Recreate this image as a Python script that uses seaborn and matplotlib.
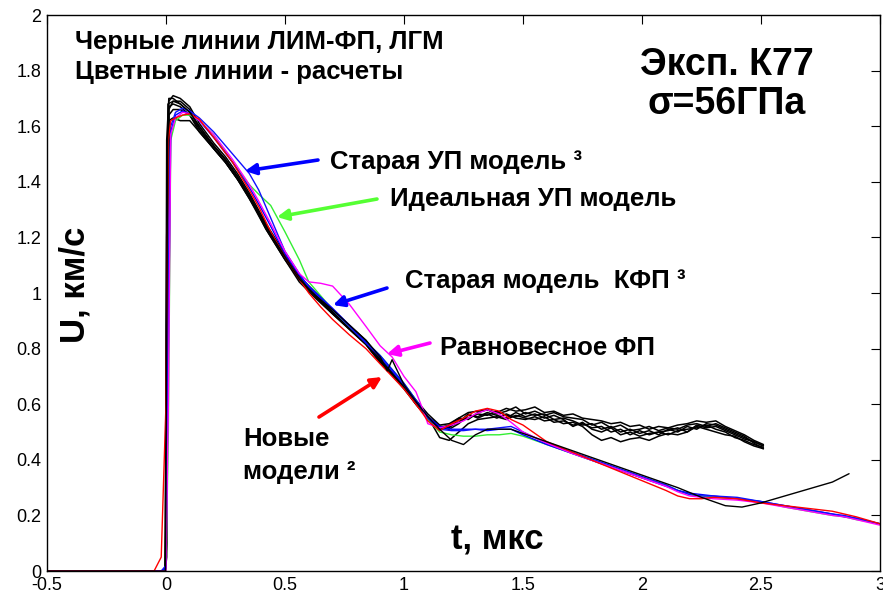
import matplotlib
matplotlib.use("Agg")
import matplotlib.pyplot as plt
import seaborn as sns
import pandas as pd

# ---------------- data ----------------
# experimental traces (black), shared time grid
t_exp = [-0.5, -0.003, 0.003, 0.012, 0.03, 0.06, 0.1, 0.14, 0.2, 0.25,
         0.3, 0.35, 0.42, 0.5, 0.56, 0.63, 0.7, 0.77, 0.84, 0.9,
         0.95, 1.0, 1.05, 1.1, 1.15, 1.19, 1.23, 1.27, 1.31, 1.35,
         1.39, 1.43, 1.47, 1.51, 1.55, 1.59, 1.63, 1.67, 1.71, 1.75,
         1.79, 1.83, 1.87, 1.91, 1.95, 1.99, 2.03, 2.07, 2.11, 2.15,
         2.19, 2.23, 2.27, 2.31, 2.35, 2.39, 2.43, 2.47, 2.51]

exp_1 = [0, 0, 1.20, 1.69, 1.71, 1.70, 1.67, 1.61, 1.54, 1.49,
         1.43, 1.36, 1.25, 1.14, 1.06, 1.00, 0.94, 0.885, 0.83, 0.765,
         0.72, 0.67, 0.615, 0.565, 0.525, 0.53, 0.55, 0.57, 0.575, 0.58,
         0.57, 0.585, 0.575, 0.58, 0.59, 0.57, 0.575, 0.56, 0.565, 0.55,
         0.545, 0.54, 0.53, 0.535, 0.52, 0.525, 0.51, 0.52, 0.515, 0.525,
         0.53, 0.54, 0.535, 0.54, 0.52, 0.505, 0.49, 0.47, 0.455]
exp_2 = [0, 0, 0.40, 1.66, 1.69, 1.69, 1.66, 1.59, 1.52, 1.47,
         1.41, 1.34, 1.23, 1.12, 1.04, 0.98, 0.925, 0.87, 0.815, 0.75,
         0.705, 0.655, 0.60, 0.55, 0.515, 0.51, 0.53, 0.56, 0.555, 0.57,
         0.56, 0.55, 0.57, 0.555, 0.565, 0.55, 0.56, 0.545, 0.52, 0.535,
         0.51, 0.50, 0.515, 0.49, 0.50, 0.485, 0.495, 0.50, 0.49, 0.505,
         0.51, 0.515, 0.525, 0.51, 0.50, 0.48, 0.47, 0.455, 0.445]
exp_3 = [0, 0, 1.55, 1.70, 1.70, 1.68, 1.65, 1.60, 1.53, 1.48,
         1.42, 1.35, 1.24, 1.13, 1.05, 0.99, 0.935, 0.88, 0.82, 0.755,
         0.71, 0.66, 0.605, 0.555, 0.52, 0.515, 0.545, 0.55, 0.565, 0.56,
         0.575, 0.56, 0.555, 0.57, 0.56, 0.565, 0.545, 0.55, 0.54, 0.525,
         0.53, 0.51, 0.52, 0.50, 0.51, 0.495, 0.505, 0.49, 0.51, 0.50,
         0.52, 0.51, 0.53, 0.525, 0.51, 0.495, 0.48, 0.465, 0.45]
exp_4 = [0, 0, 0.90, 1.67, 1.68, 1.67, 1.64, 1.58, 1.52, 1.47,
         1.41, 1.34, 1.24, 1.13, 1.05, 0.99, 0.93, 0.875, 0.82, 0.755,
         0.71, 0.66, 0.605, 0.555, 0.52, 0.52, 0.535, 0.565, 0.55, 0.565,
         0.55, 0.565, 0.55, 0.545, 0.555, 0.54, 0.545, 0.53, 0.535, 0.52,
         0.49, 0.47, 0.48, 0.465, 0.475, 0.48, 0.47, 0.485, 0.495, 0.49,
         0.50, 0.52, 0.51, 0.50, 0.49, 0.485, 0.465, 0.45, 0.44]
exp_5 = [0, 0, 0.10, 1.64, 1.66, 1.66, 1.64, 1.59, 1.53, 1.48,
         1.42, 1.35, 1.23, 1.12, 1.05, 0.985, 0.925, 0.87, 0.815, 0.75,
         0.705, 0.66, 0.60, 0.55, 0.515, 0.525, 0.55, 0.545, 0.57, 0.58,
         0.565, 0.575, 0.59, 0.565, 0.575, 0.56, 0.57, 0.555, 0.55, 0.545,
         0.525, 0.535, 0.515, 0.525, 0.505, 0.51, 0.52, 0.505, 0.515, 0.51,
         0.525, 0.53, 0.52, 0.53, 0.515, 0.50, 0.485, 0.46, 0.44]
exp_6 = [0, 0, 0.05, 1.62, 1.63, 1.62, 1.62, 1.58, 1.52, 1.47,
         1.41, 1.35, 1.24, 1.13, 1.06, 0.995, 0.935, 0.88, 0.825, 0.76,
         0.715, 0.665, 0.61, 0.555, 0.48, 0.47, 0.50, 0.53, 0.545, 0.55,
         0.555, 0.545, 0.56, 0.55, 0.545, 0.555, 0.535, 0.54, 0.525, 0.53,
         0.515, 0.52, 0.50, 0.51, 0.49, 0.505, 0.49, 0.50, 0.505, 0.515,
         0.50, 0.525, 0.515, 0.52, 0.505, 0.49, 0.475, 0.465, 0.45]

# long experimental trace
t_exp7 = [-0.5, -0.002, 0.008, 0.03, 0.06, 0.1, 0.14, 0.2, 0.25, 0.3,
          0.35, 0.42, 0.5, 0.56, 0.63, 0.7, 0.77, 0.84, 0.9, 0.93,
          0.95, 1.0, 1.05, 1.1, 1.15, 1.2, 1.25, 1.3, 1.35, 1.45,
          1.55, 1.65, 1.75, 1.85, 1.95, 2.05, 2.15, 2.25, 2.35, 2.42,
          2.5, 2.6, 2.7, 2.8, 2.87]
exp_7 = [0, 0, 1.68, 1.69, 1.68, 1.65, 1.60, 1.53, 1.48, 1.42,
         1.35, 1.24, 1.13, 1.05, 0.99, 0.94, 0.885, 0.83, 0.77, 0.72,
         0.76, 0.67, 0.61, 0.555, 0.51, 0.47, 0.455, 0.49, 0.51, 0.51,
         0.48, 0.45, 0.42, 0.39, 0.36, 0.33, 0.30, 0.265, 0.235, 0.23,
         0.245, 0.27, 0.295, 0.32, 0.35]

# calculated curves, shared grid
t_calc = [-0.5, -0.05, -0.02, 0.0, 0.01, 0.02, 0.04, 0.07, 0.1, 0.14,
          0.2, 0.28, 0.35, 0.39, 0.44, 0.5, 0.56, 0.6, 0.65, 0.7,
          0.77, 0.84, 0.9, 0.95, 1.0, 1.05, 1.08, 1.1, 1.15, 1.2,
          1.25, 1.3, 1.35, 1.4, 1.45, 1.5, 1.6, 1.7, 1.8, 1.9,
          2.0, 2.1, 2.15, 2.2, 2.25, 2.3, 2.4, 2.5, 2.6, 2.7,
          2.8, 2.85, 2.9, 3.0]

calc_blue_up = [0, 0, 0, 0.02, 1.2, 1.60, 1.65, 1.665, 1.655, 1.63,
                1.58, 1.50, 1.43, 1.37, 1.27, 1.15, 1.07, 1.02, 0.98, 0.94,
                0.88, 0.82, 0.77, 0.72, 0.67, 0.61, 0.575, 0.55, 0.51, 0.505,
                0.505, 0.51, 0.51, 0.515, 0.52, 0.50, 0.46, 0.43, 0.40, 0.37,
                0.34, 0.31, 0.29, 0.275, 0.27, 0.27, 0.265, 0.25, 0.235, 0.22,
                0.205, 0.20, 0.19, 0.17]
calc_blue_kfp = [0, 0, 0, 0.01, 0.8, 1.58, 1.64, 1.655, 1.645, 1.62,
                 1.56, 1.47, 1.38, 1.32, 1.24, 1.14, 1.065, 1.025, 0.985, 0.945,
                 0.885, 0.825, 0.775, 0.725, 0.675, 0.615, 0.58, 0.555, 0.52, 0.51,
                 0.51, 0.51, 0.505, 0.51, 0.51, 0.49, 0.455, 0.425, 0.395, 0.365,
                 0.335, 0.305, 0.29, 0.28, 0.275, 0.27, 0.26, 0.25, 0.235, 0.22,
                 0.205, 0.195, 0.19, 0.17]
calc_green = [0, 0, 0, 0.0, 0.5, 1.55, 1.62, 1.64, 1.64, 1.62,
              1.57, 1.47, 1.39, 1.355, 1.315, 1.22, 1.12, 1.04, 0.99, 0.94,
              0.88, 0.825, 0.775, 0.725, 0.675, 0.615, 0.575, 0.545, 0.50, 0.49,
              0.485, 0.485, 0.49, 0.49, 0.495, 0.485, 0.455, 0.425, 0.395, 0.365,
              0.335, 0.31, 0.29, 0.275, 0.27, 0.265, 0.26, 0.25, 0.23, 0.215,
              0.20, 0.195, 0.185, 0.17]
calc_magenta = [0, 0, 0, 0.0, 0.6, 1.57, 1.63, 1.65, 1.645, 1.62,
                1.57, 1.48, 1.39, 1.33, 1.25, 1.15, 1.07, 1.04, 1.035, 1.025,
                0.96, 0.88, 0.81, 0.77, 0.70, 0.645, 0.58, 0.53, 0.515, 0.525,
                0.54, 0.565, 0.58, 0.565, 0.535, 0.50, 0.46, 0.425, 0.395, 0.365,
                0.335, 0.305, 0.285, 0.27, 0.265, 0.26, 0.255, 0.245, 0.23, 0.215,
                0.20, 0.195, 0.185, 0.165]
calc_red = [0, 0.0, 0.05, 0.6, 1.55, 1.62, 1.63, 1.64, 1.645, 1.625,
            1.56, 1.47, 1.37, 1.31, 1.22, 1.13, 1.05, 1.00, 0.95, 0.905,
            0.85, 0.80, 0.745, 0.70, 0.655, 0.60, 0.565, 0.54, 0.505, 0.53,
            0.55, 0.575, 0.585, 0.575, 0.545, 0.525, 0.465, 0.43, 0.395, 0.36,
            0.325, 0.29, 0.27, 0.26, 0.26, 0.265, 0.26, 0.245, 0.235, 0.225,
            0.215, 0.205, 0.195, 0.17]

x_ticks = [-0.5, 0, 0.5, 1, 1.5, 2, 2.5, 3]
x_tick_labels = ["-0.5", "0", "0.5", "1", "1.5", "2", "2.5", "3"]
y_ticks = [0, 0.2, 0.4, 0.6, 0.8, 1.0, 1.2, 1.4, 1.6, 1.8, 2.0]
y_tick_labels = ["0", "0.2", "0.4", "0.6", "0.8", "1", "1.2", "1.4", "1.6", "1.8", "2"]

# ---------------- tables ----------------
exp_traces = {"exp1": exp_1, "exp2": exp_2, "exp3": exp_3,
              "exp4": exp_4, "exp5": exp_5, "exp6": exp_6}
rows = []
for name, vals in exp_traces.items():
    for t, u in zip(t_exp, vals):
        rows.append((name, t, u))
df_exp = pd.DataFrame(rows, columns=["trace", "t", "u"])
df_exp7 = pd.DataFrame({"trace": "exp7", "t": t_exp7, "u": exp_7})

calc_traces = {"green": calc_green, "blue_kfp": calc_blue_kfp,
               "blue_up": calc_blue_up, "magenta": calc_magenta, "red": calc_red}
calc_colors = {"green": "#33ee33", "blue_kfp": "#0000ff", "blue_up": "#1010ff",
               "magenta": "#ff00ff", "red": "#ff0000"}
rows = []
for name, vals in calc_traces.items():
    for t, u in zip(t_calc, vals):
        rows.append((name, t, u))
df_calc = pd.DataFrame(rows, columns=["trace", "t", "u"])

# ---------------- plot ----------------
sns.set_theme(style="white")
plt.rcParams["font.family"] = ["Liberation Sans", "DejaVu Sans"]
plt.rcParams["text.color"] = "black"

fig = plt.figure(figsize=(8.83, 5.94), dpi=100)
ax = fig.add_axes([0.0532, 0.0387, 0.9434, 0.936])

sns.lineplot(data=df_exp, x="t", y="u", hue="trace",
             palette={k: "black" for k in exp_traces}, estimator=None,
             sort=False, legend=False, linewidth=1.1, ax=ax)
sns.lineplot(data=df_calc, x="t", y="u", hue="trace", palette=calc_colors,
             estimator=None, sort=False, legend=False, linewidth=1.0, ax=ax)
sns.lineplot(data=df_exp7, x="t", y="u", color="black", estimator=None,
             sort=False, legend=False, linewidth=1.0, ax=ax)

ax.set_xlim(-0.5, 3)
ax.set_ylim(0, 2)
ax.set_xticks(x_ticks)
ax.set_xticklabels(x_tick_labels)
ax.set_yticks(y_ticks)
ax.set_yticklabels(y_tick_labels)
ax.tick_params(direction="in", length=6.5, width=0.8, top=True, right=True,
               labelsize=13, colors="black", pad=4)
for s in ax.spines.values():
    s.set_visible(True)
    s.set_color("black")
    s.set_linewidth(1.0)

ax.set_xlabel("")
ax.set_ylabel("")

# axis titles drawn inside the axes, as in the reference
ax.text(-0.382, 1.03, "U, км/с", fontsize=25, fontweight="bold",
        rotation=90, ha="center", va="center", color="black")
ax.text(1.391, 0.112, "t, мкс", fontsize=25, fontweight="bold",
        ha="center", va="center", color="black")

ax.text(-0.382, 1.903, "Черные линии ЛИМ-ФП, ЛГМ", fontsize=18.5,
        fontweight="bold", ha="left", va="center", color="black")
ax.text(-0.382, 1.795, "Цветные линии - расчеты", fontsize=18.5,
        fontweight="bold", ha="left", va="center", color="black")
ax.text(2.357, 1.82, "Эксп. К77", fontsize=27, fontweight="bold",
        ha="center", va="center", color="black")
ax.text(2.357, 1.68, "σ=56ГПа", fontsize=27, fontweight="bold",
        ha="center", va="center", color="black")

lab_kw = dict(fontsize=18.5, fontweight="bold", ha="left", va="center",
              color="black")
ax.text(0.689, 1.471, "Старая УП модель ³", **lab_kw)
ax.text(0.941, 1.338, "Идеальная УП модель", **lab_kw)
ax.text(1.004, 1.043, "Старая модель  КФП ³", **lab_kw)
ax.text(1.151, 0.802, "Равновесное ФП", **lab_kw)
ax.text(0.324, 0.475, "Новые", **lab_kw)
ax.text(0.324, 0.356, "модели ²", **lab_kw)

def px(x, y):
    return ((x - 47) / 238 - 0.5, (571 - y) / 278)

arrows = [((318, 160), (245, 171), "#0000ff"),
          ((377, 199), (277, 217), "#55ff33"),
          ((387, 288), (333, 305), "#0000ff"),
          ((430, 343), (387, 354), "#ff00ff"),
          ((319, 417), (382, 377), "#ff0000")]
for tail, tip, col in arrows:
    ax.annotate("", xy=px(*tip), xytext=px(*tail),
                arrowprops=dict(arrowstyle="-|>", color=col, lw=2.6,
                                mutation_scale=16, shrinkA=0, shrinkB=0))

fig.savefig("out.png", dpi=100)
